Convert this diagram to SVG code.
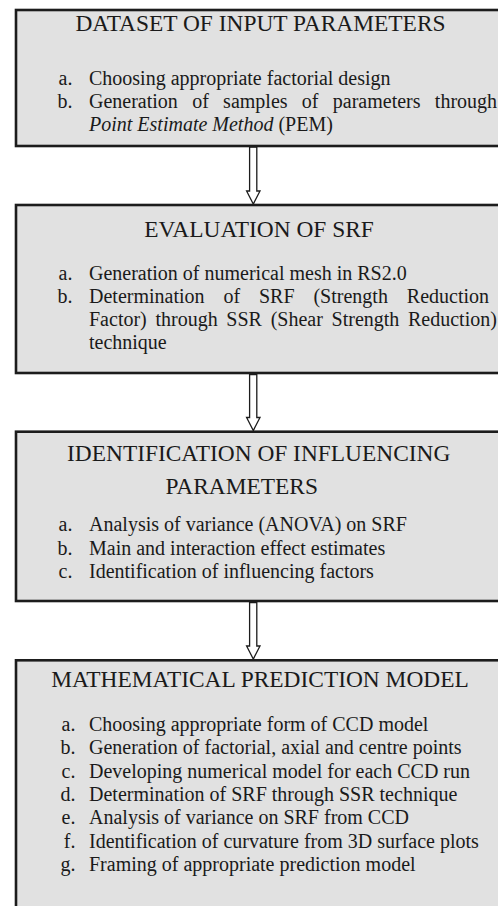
<svg xmlns="http://www.w3.org/2000/svg" width="498" height="906" viewBox="0 0 498 906">
<style>
.box{fill:#e1e1e1;stroke:#1c1c1c;stroke-width:2.6}
.t{font-family:"Liberation Serif","Times New Roman",serif;fill:#1a1a1a}
.h{font-size:23.4px;text-anchor:middle}
.b{font-size:20px}
.m{font-size:20px;text-anchor:end}
.arr{fill:#ffffff;stroke:#1c1c1c;stroke-width:1.3;stroke-linejoin:miter}
</style>
<rect width="498" height="906" fill="#ffffff"/>
<g id="connectors">
<polygon class="arr" points="249.6,147 249.6,191 246.6,191 253.3,204 260,191 256.8,191 256.8,147"/>
<polygon class="arr" points="249.6,374.5 249.6,417.5 246.6,417.5 253.3,430.5 260,417.5 256.8,417.5 256.8,374.5"/>
<polygon class="arr" points="249.6,602.5 249.6,646 246.6,646 253.3,659 260,646 256.8,646 256.8,602.5"/>
</g>
<g id="node1">
<rect class="box" x="16" y="10" width="500" height="136"/>
<text class="t h" x="260.5" y="31">DATASET OF INPUT PARAMETERS</text>
<text class="t m" x="72.5" y="84.5">a.</text>
<text class="t b" x="89" y="84.5">Choosing appropriate factorial design</text>
<text class="t m" x="72.5" y="107.5">b.</text>
<text class="t b" x="89" y="107.5" word-spacing="9.3">Generation of samples of parameters through</text>
<text class="t b" x="89" y="130.5"><tspan font-style="italic">Point Estimate Method</tspan> (PEM)</text>
</g>
<g id="node2">
<rect class="box" x="16" y="205" width="500" height="168"/>
<text class="t h" x="259" y="236.5">EVALUATION OF SRF</text>
<text class="t m" x="72.5" y="279.5">a.</text>
<text class="t b" x="89" y="279.5">Generation of numerical mesh in RS2.0</text>
<text class="t m" x="72.5" y="302.7">b.</text>
<text class="t b" x="89" y="302.7" word-spacing="13.9">Determination of SRF (Strength Reduction</text>
<text class="t b" x="89" y="326" word-spacing="3.7">Factor) through SSR (Shear Strength Reduction)</text>
<text class="t b" x="89" y="349.3">technique</text>
</g>
<g id="node3">
<rect class="box" x="16" y="431.7" width="500" height="169.3"/>
<text class="t h" x="258.7" y="460.7">IDENTIFICATION OF INFLUENCING</text>
<text class="t h" x="241.7" y="494">PARAMETERS</text>
<text class="t m" x="72.5" y="531">a.</text>
<text class="t b" x="89" y="531">Analysis of variance (ANOVA) on SRF</text>
<text class="t m" x="72.5" y="554.5">b.</text>
<text class="t b" x="89" y="554.5">Main and interaction effect estimates</text>
<text class="t m" x="72.5" y="578">c.</text>
<text class="t b" x="89" y="578">Identification of influencing factors</text>
</g>
<g id="node4">
<rect class="box" x="16" y="660.3" width="500" height="260"/>
<text class="t h" x="260" y="686.7">MATHEMATICAL PREDICTION MODEL</text>
<text class="t m" x="75.5" y="731">a.</text>
<text class="t b" x="89" y="731">Choosing appropriate form of CCD model</text>
<text class="t m" x="75.5" y="754.3">b.</text>
<text class="t b" x="89" y="754.3">Generation of factorial, axial and centre points</text>
<text class="t m" x="75.5" y="777.6">c.</text>
<text class="t b" x="89" y="777.6">Developing numerical model for each CCD run</text>
<text class="t m" x="75.5" y="800.9">d.</text>
<text class="t b" x="89" y="800.9">Determination of SRF through SSR technique</text>
<text class="t m" x="75.5" y="824.2">e.</text>
<text class="t b" x="89" y="824.2">Analysis of variance on SRF from CCD</text>
<text class="t m" x="75.5" y="847.5">f.</text>
<text class="t b" x="89" y="847.5">Identification of curvature from 3D surface plots</text>
<text class="t m" x="75.5" y="870.8">g.</text>
<text class="t b" x="89" y="870.8">Framing of appropriate prediction model</text>
</g>
</svg>
